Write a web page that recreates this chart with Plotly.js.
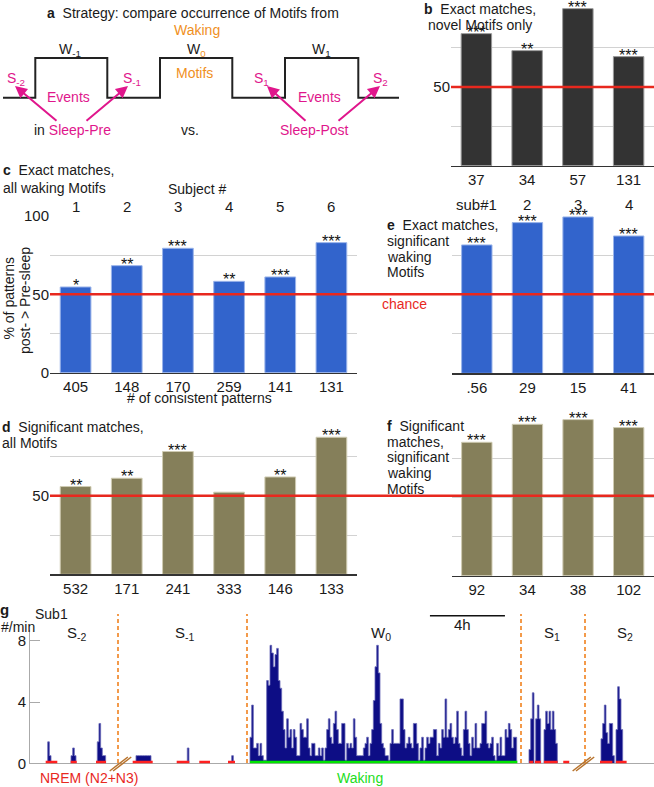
<!DOCTYPE html>
<html><head><meta charset="utf-8">
<script src="https://cdn.plot.ly/plotly-3.0.1.min.js"></script>
<style>html,body{margin:0;padding:0;background:#fff}#chart{width:654px;height:787px}</style>
</head><body><div id="chart"></div>
<script>
const W=654,H=787;
const FONT='Liberation Sans, Arial, Helvetica, sans-serif';
const MAGENTA='#e0168c', ORANGE='#f0901e', RED='#e8281e', TXT='#1a1a1a';
const BLUE='#3264cc', BLUE_EDGE='#9ab4ea', OLIVE='#857f5a', OLIVE_EDGE='#cfcbb2', DARK='#333333', DARK_EDGE='#9a9a9a';

// ---------- data ----------
const pctTicks=[0,25,50,75,100];
const chance=50;
// b
const bSubjects=[1,2,3,4];
const bCounts=['37','34','57','131'];
const bValues=[83.9,73.1,99.8,69.3];
const bStars=['***','**','***','***'];
// c
const cSubjects=[1,2,3,4,5,6];
const cSubjectLabels=['1','2','3','4','5','6'];
const cCounts=['405','148','170','259','141','131'];
const cValues=[54.7,68.3,79.4,58.3,61.1,83.0];
const cStars=['*','**','***','**','***','***'];
// d
const dSubjects=[1,2,3,4,5,6];
const dCounts=['532','171','241','333','146','133'];
const dValues=[55.9,61.2,78.2,52.3,62.0,87.3];
const dStars=['**','**','***','','**','***'];
// e
const eSubjects=[1,2,3,4];
const eSubjectLabels=['sub#1','2','3','4'];
const eCounts=['.56','29','15','41'];
const eValues=[81.6,95.8,99.4,87.3];
const eStars=['***','***','***','***'];
// f
const fSubjects=[1,2,3,4];
const fCounts=['92','34','38','102'];
const fValues=[85.3,96.8,99.8,94.7];
const fStars=['***','***','***','***'];
// g  (time in hours, rate in #/min)
const gBin=0.0889;
const gStart=[0.944,2.187,3.589,5.653,8.389,10.757,11.733,26.613,30.453];
const gRates=[
 [1.4,0.5],
 [0.5,1.0,0.5],
 [1.4,2.6,1.0,0.5,0.5],
 [0.5,0.5,0.5,0.5,0.5,0.5,0.5,0.5,0.5],
 [1.0],
 [0.5],
 [1.7,3.8,1.0,1.0,1.3,0.5,1.3,0.5,0.2,0.2,5.4,5.1,7.7,7.2,6.3,7.1,7.5,5.4,4.9,3.4,
  2.2,1.0,2.9,1.7,2.2,1.0,2.2,1.7,0.5,0.5,2.6,2.2,1.7,1.7,2.9,1.0,0.5,1.3,1.3,0.5,
  0.5,1.0,0.5,1.0,0.2,1.0,2.2,2.9,1.7,1.3,2.6,3.4,2.2,1.3,
  1.3,2.6,2.6,0.2,1.3,1.0,1.3,1.0,2.9,1.7,0.5,0.5,0.5,0.5,1.0,1.3,1.7,0.5,1.3,2.2,
  4.1,6.3,7.7,5.9,2.6,1.3,1.0,0.5,0.5,0.2,1.3,2.2,1.3,1.3,1.3,1.3,4.2,4.2,2.2,1.0,
  1.3,1.7,1.3,1.0,2.6,2.6,1.3,0.2,1.0,1.7,0.2,1.0,1.7,1.3,
  1.7,1.7,2.2,2.2,0.5,1.3,1.0,2.2,1.7,4.2,1.7,2.2,2.6,1.7,1.3,1.7,3.4,1.3,1.0,0.5,
  2.2,3.4,2.2,1.3,0.5,1.7,1.0,2.6,1.0,1.0,1.3,2.6,2.6,3.4,1.3,1.0,1.3,1.7,0.5,0.2,
  1.3,0.5,1.7,0.5,0.5,2.2,1.7,2.6,2.2,1.0,1.7,1.7],
 [0.9,2.9,4.6,0,2.9,3.8,2.9,0,0,2.2,3.4,2.6,3.4,2.2,3.4,2.2,1.3],
 [1.6,2.6,3.8,2.0,1.3,2.6,2.6,0.5,0,2.2,5.0,4.2,2.2]
];
const nremStart=[0.837,2.171,3.52,5.477,7.824,9.029,10.56,26.63,26.93,27.41,28.44,30.4,31.25];
const nremEnd  =[1.456,2.491,4.053,6.544,8.496,9.6,10.933,26.84,27.25,28.14,28.76,31.06,31.82];
const wakeStart=11.733, wakeEnd=25.99;
const boundaries=[4.693,11.573,26.187,29.6];
const breaks=[4.8,29.49];
const epochLabels=['S<sub>-2</sub>','S<sub>-1</sub>','W<sub>0</sub>','S<sub>1</sub>','S<sub>2</sub>'];
const epochLabelHours=[2.507,8.267,18.72,27.84,31.73];
const scaleBar=[21.33,25.33];
const gTicks=[0,4,8];

// ---------- helpers ----------
const P=x=>x/W, Q=y=>1-y/H;
const ann=[], shp=[];
function txt(text,x,y,size,color,extra){
  ann.push(Object.assign({text,x:P(x),y:Q(y),xref:'paper',yref:'paper',showarrow:false,
    xanchor:'center',yanchor:'middle',font:{family:FONT,size:size||14,color:color||TXT}},extra||{}));
}
function starAnn(xs,ys,st,xa,ya){
  xs.forEach((x,i)=>{ if(st[i]) ann.push({text:st[i],x,y:ys[i],xref:xa,yref:ya,showarrow:false,
    yanchor:'bottom',xanchor:'center',yshift:-9,font:{family:FONT,size:16,color:'#111'}}); });
}
function topLabels(xs,labels,xa,ypx){
  xs.forEach((x,i)=>ann.push({text:labels[i],x,y:Q(ypx),xref:xa,yref:'paper',showarrow:false,
    xanchor:'center',yanchor:'middle',font:{family:FONT,size:15,color:TXT}}));
}
function barX(d0,d1,subs,counts,anchor){
  return {domain:[P(d0),P(d1)],range:[0.5,subs.length+0.5],tickvals:subs,ticktext:counts,anchor,
    showgrid:false,zeroline:false,showline:true,linecolor:'#333',linewidth:1.5,ticks:'',
    tickfont:{family:FONT,size:15,color:TXT},fixedrange:true};
}
function barY(top,bottom,ticktext,anchor){
  return {domain:[Q(bottom),Q(top)],range:[0,100],tickvals:pctTicks,ticktext:ticktext||['','','','',''],
    showticklabels:!!ticktext,anchor,showgrid:true,gridcolor:'#d2d2d2',gridwidth:1,zeroline:false,
    showline:false,ticks:'',tickfont:{family:FONT,size:15,color:TXT},fixedrange:true};
}
function barTrace(x,y,xa,ya,color,edge){
  return {type:'bar',x,y,xaxis:xa,yaxis:ya,marker:{color,line:{color:edge,width:1}},hoverinfo:'skip'};
}

// ---------- traces ----------
const traces=[
  barTrace(bSubjects,bValues,'x','y',DARK,DARK_EDGE),
  barTrace(cSubjects,cValues,'x2','y2',BLUE,BLUE_EDGE),
  barTrace(eSubjects,eValues,'x3','y3',BLUE,BLUE_EDGE),
  barTrace(dSubjects,dValues,'x4','y4',OLIVE,OLIVE_EDGE),
  barTrace(fSubjects,fValues,'x5','y5',OLIVE,OLIVE_EDGE)
];
// step-filled histogram, one trace per recorded cluster
gStart.forEach((s,k)=>{
  const r=gRates[k], xs=[s], ys=[0];
  r.forEach((v,i)=>{xs.push(s+i*gBin);ys.push(v);});
  xs.push(s+r.length*gBin); ys.push(0);
  traces.push({type:'scatter',mode:'lines',x:xs,y:ys,xaxis:'x6',yaxis:'y6',line:{shape:'hv',color:'#6a6ab8',width:0.8},
    fill:'tozeroy',fillcolor:'#0d0d85',hoverinfo:'skip'});
});

// stars
starAnn(bSubjects,bValues,bStars,'x','y');
starAnn(cSubjects,cValues,cStars,'x2','y2');
starAnn(eSubjects,eValues,eStars,'x3','y3');
starAnn(dSubjects,dValues,dStars,'x4','y4');
starAnn(fSubjects,fValues,fStars,'x5','y5');
topLabels(cSubjects,cSubjectLabels,'x2',206.5);
topLabels(eSubjects,eSubjectLabels,'x3',204);

// chance lines
shp.push({type:'line',xref:'paper',yref:'y',x0:P(451),x1:1,y0:chance,y1:chance,line:{color:RED,width:2.5}});
shp.push({type:'line',xref:'paper',yref:'y2',x0:P(50),x1:1,y0:chance,y1:chance,line:{color:RED,width:2.5}});
shp.push({type:'line',xref:'paper',yref:'y4',x0:P(50),x1:1,y0:chance,y1:chance,line:{color:RED,width:2.5}});

// ---------- panel a ----------
const wave=[[3,97.7],[35.3,97.7],[35.3,58],[107.3,58],[107.3,97.7],[160,97.7],[160,58],[232.3,58],
  [232.3,97.7],[285,97.7],[285,58],[358.3,58],[358.3,97.7],[399,97.7]];
shp.push({type:'path',xref:'paper',yref:'paper',path:wave.map((p,i)=>(i?'L':'M')+P(p[0])+','+Q(p[1])).join(' '),
  line:{color:'#222',width:2}});
txt('<b>a</b>&nbsp;&nbsp;Strategy: compare occurrence of Motifs from',193,13.5);
txt('Waking',197,29.5,14,ORANGE);
txt('W<sub>-1</sub>',70,50);
txt('W<sub><span style="color:'+ORANGE+'">0</span></sub>',196.5,50);
txt('W<sub>1</sub>',321,50);
txt('Motifs',194,72.7,14,ORANGE);
txt('S<sub>-2</sub>',16,79,14,MAGENTA);
txt('S<sub>-1</sub>',131.7,79,14,MAGENTA);
txt('S<sub>1</sub>',261,79,14,MAGENTA);
txt('S<sub>2</sub>',381,79,14,MAGENTA);
txt('Events',68.3,97.3,14,MAGENTA);
txt('Events',319.7,97.3,14,MAGENTA);
txt('in <span style="color:'+MAGENTA+'">Sleep-Pre</span>',72.5,130);
txt('vs.',190.5,130);
txt('Sleep-Post',314.7,130,14,MAGENTA);
[[[15,86],[58,122]],[[128,86],[85,122]],[[267,86],[307,122]],[[380,86],[337,122]]].forEach(a=>{
  ann.push({text:'',x:P(a[0][0]),y:Q(a[0][1]),xref:'paper',yref:'paper',showarrow:true,
    ax:a[1][0]-a[0][0],ay:a[1][1]-a[0][1],arrowhead:2,arrowsize:1.2,arrowwidth:2,arrowcolor:MAGENTA,standoff:0});
});

// ---------- titles ----------
txt('<b>b</b>&nbsp;&nbsp;Exact matches,',422,9,14,TXT,{xanchor:'left'});
txt('novel Motifs only',426,25.5,14,TXT,{xanchor:'left'});
txt('<b>c</b>&nbsp;&nbsp;Exact matches,',1,170,14,TXT,{xanchor:'left'});
txt('all waking Motifs',1,188,14,TXT,{xanchor:'left'});
txt('Subject #',197.5,189,14);
txt('# of consistent patterns',199.3,398,14);
txt('% of patterns',8.5,298,14,TXT,{textangle:-90});
txt('post- &gt; Pre-sleep',25,301,14,TXT,{textangle:-90});
txt('chance',404,304,14,RED);
txt('<b>e</b>&nbsp;&nbsp;Exact matches,',385,225,14,TXT,{xanchor:'left'});
txt('significant',385,240.7,14,TXT,{xanchor:'left'});
txt('waking',385,256.7,14,TXT,{xanchor:'left'});
txt('Motifs',385,272.3,14,TXT,{xanchor:'left'});
txt('<b>d</b>&nbsp;&nbsp;Significant matches,',0,426.7,14,TXT,{xanchor:'left'});
txt('all Motifs',0,443.3,14,TXT,{xanchor:'left'});
txt('<b>f</b>&nbsp;&nbsp;Significant',385,426,14,TXT,{xanchor:'left'});
txt('matches,',385,442,14,TXT,{xanchor:'left'});
txt('significant',385,457.3,14,TXT,{xanchor:'left'});
txt('waking',385,473.3,14,TXT,{xanchor:'left'});
txt('Motifs',385,489.3,14,TXT,{xanchor:'left'});

// ---------- panel g ----------
txt('<b>g</b>',4,609,15);
txt('Sub1',51,614,14);
txt('#/min',18,627,14);
epochLabels.forEach((t,i)=>ann.push({text:t,x:epochLabelHours[i],y:Q(633),xref:'x6',yref:'paper',showarrow:false,
  xanchor:'center',yanchor:'middle',font:{family:FONT,size:15,color:TXT}}));
ann.push({text:'4h',x:23.07,y:Q(624),xref:'x6',yref:'paper',showarrow:false,xanchor:'center',yanchor:'middle',
  font:{family:FONT,size:15,color:TXT}});
shp.push({type:'line',xref:'x6',yref:'paper',x0:scaleBar[0],x1:scaleBar[1],y0:Q(615.7),y1:Q(615.7),line:{color:'#111',width:1.5}});
boundaries.forEach(b=>shp.push({type:'line',xref:'x6',yref:'paper',x0:b,x1:b,y0:Q(763),y1:Q(614),
  line:{color:'#f39a4a',width:2,dash:'4px,3px'}}));
breaks.forEach(c=>{
  shp.push({type:'line',xref:'x6',yref:'paper',x0:c-0.55,x1:c+0.42,y0:Q(771),y1:Q(757),line:{color:'#b8742e',width:1.5}});
  shp.push({type:'line',xref:'x6',yref:'paper',x0:c-0.37,x1:c+0.6,y0:Q(771),y1:Q(757),line:{color:'#b8742e',width:1.5}});
});
nremStart.forEach((s,i)=>shp.push({type:'line',xref:'x6',yref:'y6',x0:s,x1:nremEnd[i],y0:0,y1:0,line:{color:'#ff2020',width:5}}));
shp.push({type:'line',xref:'x6',yref:'y6',x0:wakeStart,x1:wakeEnd,y0:0,y1:0,line:{color:'#00e400',width:5}});
txt('NREM (N2+N3)',89,778.3,14,'#e8281e');
txt('Waking',359.7,778.3,14,'#22dd22');

const layout={
  width:W,height:H,margin:{l:0,r:0,t:0,b:0},paper_bgcolor:'#fff',plot_bgcolor:'rgba(0,0,0,0)',
  showlegend:false,bargap:0.4,font:{family:FONT,size:14,color:TXT},
  xaxis: barX(451,654,bSubjects,bCounts,'y'),
  yaxis: barY(8.3,165.7,['','','50','',''],'x'),
  xaxis2:barX(50,357,cSubjects,cCounts,'y2'),
  yaxis2:barY(216,372.7,['0','','50','','100'],'x2'),
  xaxis3:barX(451.5,654,eSubjects,eCounts,'y3'),
  yaxis3:barY(216,373.3,null,'x3'),
  xaxis4:barX(50,357,dSubjects,dCounts,'y4'),
  yaxis4:barY(417.3,574.3,['','','50','',''],'x4'),
  xaxis5:barX(451.5,654,fSubjects,fCounts,'y5'),
  yaxis5:barY(419.3,575.7,null,'x5'),
  xaxis6:{domain:[P(30),1],range:[0,33.28],anchor:'y6',showline:true,linecolor:'#aaa',linewidth:1,
    showticklabels:false,ticks:'',showgrid:false,zeroline:false,fixedrange:true},
  yaxis6:{domain:[Q(763.3),Q(630)],range:[0,8.7],anchor:'x6',tickvals:gTicks,ticks:'inside',ticklen:10,
    tickcolor:'#aaa',showline:true,linecolor:'#aaa',showgrid:false,zeroline:false,
    tickfont:{family:FONT,size:15,color:TXT},fixedrange:true},
  annotations:ann,shapes:shp
};
Plotly.newPlot('chart',traces,layout,{displayModeBar:false,staticPlot:true});
</script></body></html>
